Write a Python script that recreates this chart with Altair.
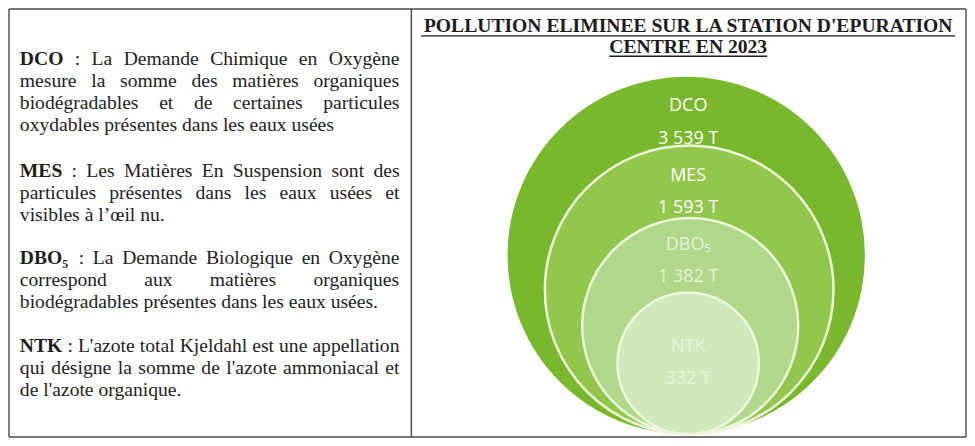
import altair as alt
import pandas as pd

# ---------------- data ----------------
pollutants = ["DCO", "MES", "DBO₅", "NTK"]
tonnes = [3539, 1593, 1382, 332]

title_lines = ["POLLUTION ELIMINEE SUR LA STATION D'EPURATION", "CENTRE EN 2023"]

def_terms = ["DCO", "MES", "DBO₅", "NTK"]
def_lines = [
    [": La Demande Chimique en Oxygène",
     "mesure la somme des matières organiques",
     "biodégradables et de certaines particules",
     "oxydables présentes dans les eaux usées"],
    [": Les Matières En Suspension sont des",
     "particules présentes dans les eaux usées et",
     "visibles à l’œil nu."],
    [": La Demande Biologique en Oxygène",
     "correspond aux matières organiques",
     "biodégradables présentes dans les eaux usées."],
    [": L'azote total Kjeldahl est une appellation",
     "qui désigne la somme de l'azote ammoniacal et",
     "de l'azote organique."],
]

# ---------------- layout / style ----------------
W, H = 959, 430
XD = [4, 974]
YD = [3, 444]
SX = W / (XD[1] - XD[0])
SY = H / (YD[1] - YD[0])
S = (SX + SY) / 2

circle_cx = [690, 693, 694, 692]
circle_r = [182, 147, 110, 72]
circle_bottom = 440
circle_fill = ["#79b72c", "#93c64c", "#afd88a", "#d0e8ba"]
circle_stroke_w = [0, 2.5, 2.5, 2.5]
name_y = [104, 175.5, 246, 351]
value_y = [137, 208.5, 279, 384]
label_x = 692
label_color = ["#ffffff", "#ffffff", "#e6f2d8", "#e6f1da"]

serif = "Liberation Serif"
FS = 19.6
TEXT_L, TEXT_R = 16, 400
para_baselines = [[61.5, 84, 106.5, 129], [176, 198.5, 221], [265.5, 288, 310.5], [356, 378.5, 401]]

TITLE_FS = 19.6
title_x = 692
title_base = [28, 49.5]
title_ul = [31.5, 52.5]

REG = {" ": 250, "'": 180, ",": 250, ".": 250, ":": 278, "’": 333,
       "A": 722, "B": 667, "C": 667, "D": 722, "E": 611, "F": 556, "G": 722, "H": 722, "I": 333,
       "J": 389, "K": 722, "L": 611, "M": 889, "N": 722, "O": 722, "P": 556, "Q": 722, "R": 667,
       "S": 556, "T": 611, "U": 722, "V": 722, "W": 944, "X": 722, "Y": 722, "Z": 611,
       "a": 444, "b": 500, "c": 444, "d": 500, "e": 444, "f": 333, "g": 500, "h": 500, "i": 278,
       "j": 278, "k": 500, "l": 278, "m": 778, "n": 500, "o": 500, "p": 500, "q": 500, "r": 333,
       "s": 389, "t": 278, "u": 500, "v": 500, "w": 722, "x": 500, "y": 500, "z": 444,
       "é": 444, "è": 444, "à": 444, "œ": 722}
BOLD = {" ": 250, "'": 278, ":": 333, "₅": 400, "A": 722, "B": 667, "C": 722, "D": 722, "E": 667,
        "I": 389, "K": 778, "L": 667, "M": 944, "N": 722, "O": 778, "P": 611, "R": 722, "S": 556,
        "T": 667, "U": 722, "0": 500, "2": 500, "3": 500}


def tw(s, table, fs):
    return sum(table.get(c, 500) for c in s) * fs / 1000


# ---------------- build tables ----------------
words_reg, words_bold = [], []
for p, (term, lines) in enumerate(zip(def_terms, def_lines)):
    for li, line in enumerate(lines):
        y = para_baselines[p][li]
        words = [(w, False) for w in line.split()]
        if li == 0:
            words = [(term, True)] + words
        widths = [tw(w, BOLD if b else REG, FS) for w, b in words]
        justified = li < len(lines) - 1
        avail = (TEXT_R - TEXT_L) * SX
        gap = (avail - sum(widths)) / (len(words) - 1) if justified else 0.25 * FS
        pos = 0.0
        for (w, b), wd in zip(words, widths):
            row = {"x": TEXT_L + pos / SX, "y": y, "text": w}
            (words_bold if b else words_reg).append(row)
            pos += wd + gap

circles = pd.DataFrame({
    "name": pollutants,
    "value": tonnes,
    "rank": range(len(pollutants)),
})
circles["cx"] = circle_cx
circles["cy"] = [circle_bottom - r * S / SY for r in circle_r]
circles["sz"] = [(2 * r * S) ** 2 for r in circle_r]
circles["sw"] = circle_stroke_w
circles["vlabel"] = [f"{v:,}".replace(",", " ") + " T" for v in tonnes]
circles["lx"] = label_x
circles["ny"] = name_y
circles["vy"] = value_y

title_df = pd.DataFrame({"text": title_lines, "x": title_x, "y": title_base})
ul_w = [tw(t, BOLD, TITLE_FS) / SX for t in title_lines]
ul_df = pd.DataFrame({"x": [title_x - w / 2 for w in ul_w], "x2": [title_x + w / 2 for w in ul_w], "y": title_ul})

frame_df = pd.DataFrame({
    "x": [5, 973, 5, 5, 412],
    "x2": [5, 973, 973, 973, 412],
    "y": [4, 4, 4, 443, 4],
    "y2": [443, 443, 4, 443, 443],
})

xs = alt.Scale(domain=XD, nice=False, zero=False)
ys = alt.Scale(domain=YD, nice=False, zero=False, reverse=True)


def X(f):
    return alt.X(f"{f}:Q", scale=xs, axis=None)


def Y(f):
    return alt.Y(f"{f}:Q", scale=ys, axis=None)


frame = alt.Chart(frame_df).mark_rule(color="#4a4a4a", strokeWidth=1.4).encode(
    x=X("x"), x2="x2", y=Y("y"), y2="y2")

title = alt.Chart(title_df).mark_text(font=serif, fontSize=TITLE_FS, fontWeight="bold",
                                      color="#1c1c1c", align="center", baseline="alphabetic").encode(
    x=X("x"), y=Y("y"), text="text:N")
underline = alt.Chart(ul_df).mark_rule(color="#1c1c1c", strokeWidth=1.3).encode(
    x=X("x"), x2="x2", y=Y("y"))

dots = alt.Chart(circles).mark_point(filled=True, shape="circle", opacity=1, stroke="#eef7dc",
                                     strokeOpacity=1).encode(
    x=X("cx"), y=Y("cy"),
    size=alt.Size("sz:Q", scale=None, legend=None),
    fill=alt.Fill("name:N", scale=alt.Scale(domain=pollutants, range=circle_fill), legend=None),
    strokeWidth=alt.StrokeWidth("sw:Q", scale=None, legend=None),
    order=alt.Order("rank:Q"),
)

lab_color = alt.Color("name:N", scale=alt.Scale(domain=pollutants, range=label_color), legend=None)
names = alt.Chart(circles).mark_text(font="Open Sans", fontSize=18, baseline="middle", align="center").encode(
    x=X("lx"), y=Y("ny"), text="name:N", color=lab_color)
vals = alt.Chart(circles).mark_text(font="Open Sans", fontSize=18, baseline="middle", align="center").encode(
    x=X("lx"), y=Y("vy"), text="vlabel:N", color=lab_color)

reg = alt.Chart(pd.DataFrame(words_reg)).mark_text(font=serif, fontSize=FS, color="#1e1e1e",
                                                  align="left", baseline="alphabetic").encode(
    x=X("x"), y=Y("y"), text="text:N")
bold = alt.Chart(pd.DataFrame(words_bold)).mark_text(font=serif, fontSize=FS, fontWeight="bold",
                                                    color="#1e1e1e", align="left", baseline="alphabetic").encode(
    x=X("x"), y=Y("y"), text="text:N")

chart = alt.layer(frame, title, underline, dots, names, vals, reg, bold).resolve_scale(
    color="independent").properties(
    width=W, height=H, padding=0, autosize=alt.AutoSizeParams(type="none")
).configure_view(stroke=None)

chart.save("out.html", embed_options={"renderer": "svg", "actions": False})
